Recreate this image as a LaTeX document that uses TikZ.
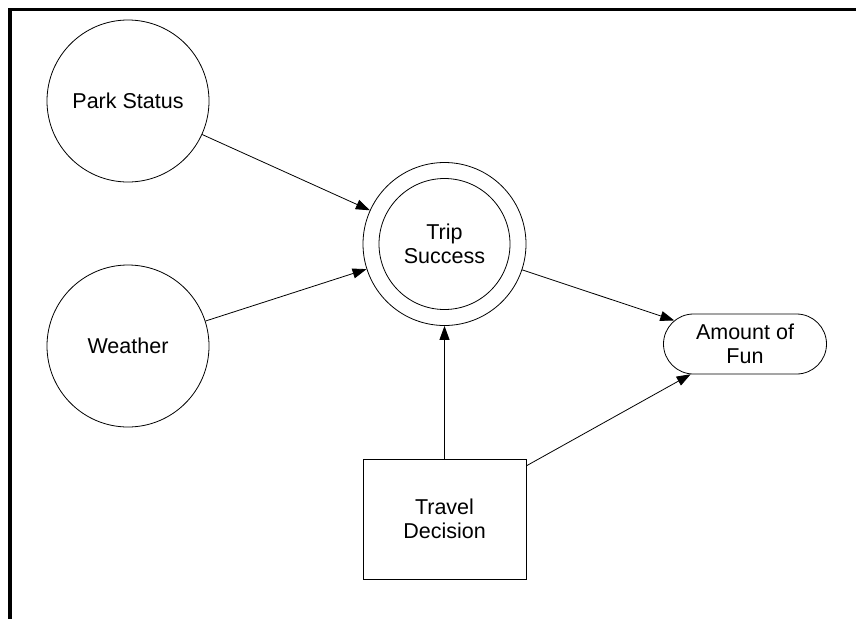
\documentclass[tikz,border=0pt]{standalone}
\usepackage{fontspec}
\setmainfont{Liberation Sans}
\usetikzlibrary{arrows.meta,shapes.misc}
\begin{document}
\begin{tikzpicture}[x=1pt,y=-1pt,
  lbl/.style={align=center,font=\fontsize{21.5}{24.5}\selectfont},
  chance/.style={circle,draw,line width=0.8pt,minimum size=162pt,inner sep=0pt,lbl},
  ring/.style={circle,draw,line width=0.8pt,inner sep=0pt},
  utility/.style={rounded rectangle,draw,line width=0.8pt,minimum width=163pt,minimum height=60pt,inner sep=0pt,lbl},
  decision/.style={rectangle,draw,line width=0.8pt,minimum width=163pt,minimum height=120pt,inner sep=0pt,lbl},
  link/.style={line width=0.8pt,-{Triangle[length=14pt,width=10pt]}},
  frame/.style={line width=3.5pt}]
  \useasboundingbox (0,0) rectangle (856,619);
  % frame: top and left edges only
  \coordinate (ftl) at (10,9.5);
  \coordinate (ftr) at (856,9.5);
  \coordinate (fbl) at (10,619);
  \draw[frame] (ftr) -- (ftl) -- (fbl);

  \node[chance] (park) at (128,101) {Park Status};
  \node[chance] (weather) at (128,346) {Weather};
  \node[ring,minimum size=163pt] (trip) at (444.5,244) {};
  \node[ring,minimum size=131pt,lbl] (tripin) at (444.5,244) {Trip\\Success};
  \node[utility] (fun) at (745,344) {Amount of\\Fun};
  \node[decision] (travel) at (444.5,519) {Travel\\Decision};

  \draw[link] (park) -- (trip);
  \draw[link] (weather) -- (trip);
  \draw[link] (trip) -- (fun);
  \draw[link] (travel.north -| trip) -- (trip);
  \draw[link] (travel.33.5) -- (fun);
\end{tikzpicture}
\end{document}
